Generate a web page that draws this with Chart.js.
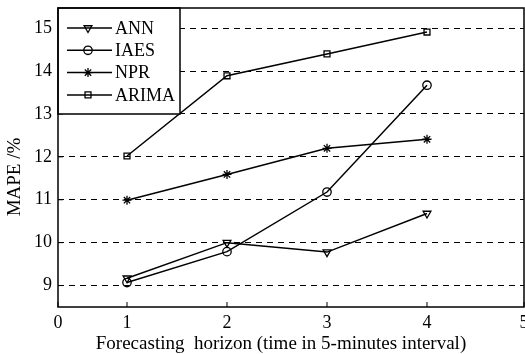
<!DOCTYPE html>
<html>
<head>
<meta charset="utf-8">
<script src="https://cdn.jsdelivr.net/npm/chart.js@4/dist/chart.umd.min.js"></script>
<style>
  html, body { margin: 0; padding: 0; background: #fff; }
  #wrap { width: 525px; height: 354px; }
</style>
</head>
<body>
<div id="wrap"><canvas id="c" width="525" height="354"></canvas></div>
<script>
const horizons = [1, 2, 3, 4];
const ann = [9.17, 10.0, 9.78, 10.68];
const iaes = [9.07, 9.79, 11.18, 13.67];
const npr = [10.99, 11.59, 12.2, 12.41];
const arima = [12.02, 13.89, 14.4, 14.91];
const seriesNames = ['ANN', 'IAES', 'NPR', 'ARIMA'];
const xTickValues = [0.31, 1, 2, 3, 4, 4.97];
const xTickLabels = ['0', '1', '2', '3', '4', '5'];
const yTicks = [9, 10, 11, 12, 13, 14, 15];
const xTitle = 'Forecasting  horizon (time in 5-minutes interval)';
const yTitle = 'MAPE /%';

const FONT = '"Liberation Serif", "Times New Roman", serif';

const markers = [
  { style: 'triangle', rotation: 180, radius: 4.5 },
  { style: 'circle', rotation: 0, radius: 4.2 },
  { style: 'star', rotation: 0, radius: 4.5 },
  { style: 'rect', rotation: 0, radius: 4.2 }
];

function pts(vals) {
  return horizons.map((h, i) => ({ x: h, y: vals[i] }));
}

const datasets = [ann, iaes, npr, arima].map((vals, i) => ({
  label: seriesNames[i],
  data: pts(vals),
  borderColor: '#000',
  backgroundColor: 'rgba(0,0,0,0)',
  borderWidth: 1.5,
  pointStyle: markers[i].style,
  rotation: markers[i].rotation,
  pointRadius: markers[i].radius,
  pointBorderWidth: 1.3,
  pointBorderColor: '#000',
  pointBackgroundColor: 'rgba(0,0,0,0)',
  tension: 0
}));

// box, inner ticks, titles and legend like the original figure
const frame = {
  id: 'frame',
  afterDatasetsDraw(chart) {
    const { ctx, chartArea: a, scales } = chart;
    ctx.save();
    ctx.strokeStyle = '#000';
    ctx.lineWidth = 1;
    ctx.beginPath();
    xTickValues.forEach(v => {
      const px = scales.x.getPixelForValue(v);
      ctx.moveTo(px, a.bottom);
      ctx.lineTo(px, a.bottom - 5);
    });
    yTicks.forEach(v => {
      const py = scales.y.getPixelForValue(v);
      ctx.moveTo(a.left, py);
      ctx.lineTo(a.left + 5, py);
    });
    ctx.stroke();

    // legend
    const lx = a.left, ly = a.top, lw = 122, lh = 106;
    ctx.fillStyle = '#fff';
    ctx.fillRect(lx, ly, lw, lh);
    ctx.lineWidth = 1.5;
    ctx.strokeRect(lx, ly, lw, lh);
    ctx.font = '18px ' + FONT;
    ctx.textBaseline = 'middle';
    ctx.textAlign = 'left';
    seriesNames.forEach((name, i) => {
      const y = ly + 20 + i * 22.3;
      ctx.lineWidth = 1.5;
      ctx.beginPath();
      ctx.moveTo(lx + 9, y);
      ctx.lineTo(lx + 54, y);
      ctx.stroke();
      ctx.lineWidth = 1.3;
      ctx.fillStyle = 'rgba(0,0,0,0)';
      Chart.helpers.drawPoint(ctx, {
        pointStyle: markers[i].style,
        rotation: markers[i].rotation,
        radius: markers[i].radius,
        borderWidth: 1.3
      }, lx + 30, y);
      ctx.fillStyle = '#000';
      ctx.fillText(name, lx + 57, y + 1);
    });

    ctx.lineWidth = 1.5;
    ctx.strokeRect(a.left, a.top, a.right - a.left, a.bottom - a.top);

    // axis titles
    ctx.fillStyle = '#000';
    ctx.font = '19px ' + FONT;
    ctx.textAlign = 'center';
    ctx.textBaseline = 'middle';
    ctx.fillText(xTitle, 281, 344);
    ctx.translate(15, 177);
    ctx.rotate(-Math.PI / 2);
    ctx.fillText(yTitle, 0, 0);
    ctx.restore();
  }
};

new Chart(document.getElementById('c'), {
  type: 'line',
  data: { datasets },
  options: {
    responsive: false,
    animation: false,
    layout: { autoPadding: false, padding: { top: 8, right: 1, left: 0, bottom: 0 } },
    plugins: { legend: { display: false }, tooltip: { enabled: false } },
    scales: {
      x: {
        type: 'linear',
        min: xTickValues[0],
        max: xTickValues[xTickValues.length - 1],
        afterBuildTicks: s => { s.ticks = xTickValues.map(v => ({ value: v })); },
        afterFit: s => { s.height = 47; s.paddingLeft = 0; s.paddingRight = 0; },
        grid: { display: false, drawTicks: false },
        border: { display: false },
        ticks: {
          color: '#000',
          font: { family: FONT, size: 18 },
          padding: 5,
          maxRotation: 0,
          autoSkip: false,
          callback: (v, i) => xTickLabels[i]
        }
      },
      y: {
        min: 8.5,
        max: 15.47,
        afterBuildTicks: s => { s.ticks = yTicks.map(v => ({ value: v })); },
        afterFit: s => { s.width = 58; s.paddingTop = 0; s.paddingBottom = 0; },
        grid: {
          color: '#000',
          lineWidth: 1,
          drawTicks: false
        },
        border: { display: false, dash: [6, 5] },
        ticks: {
          color: '#000',
          font: { family: FONT, size: 18 },
          padding: 6
        }
      }
    }
  },
  plugins: [frame]
});
</script>
</body>
</html>
